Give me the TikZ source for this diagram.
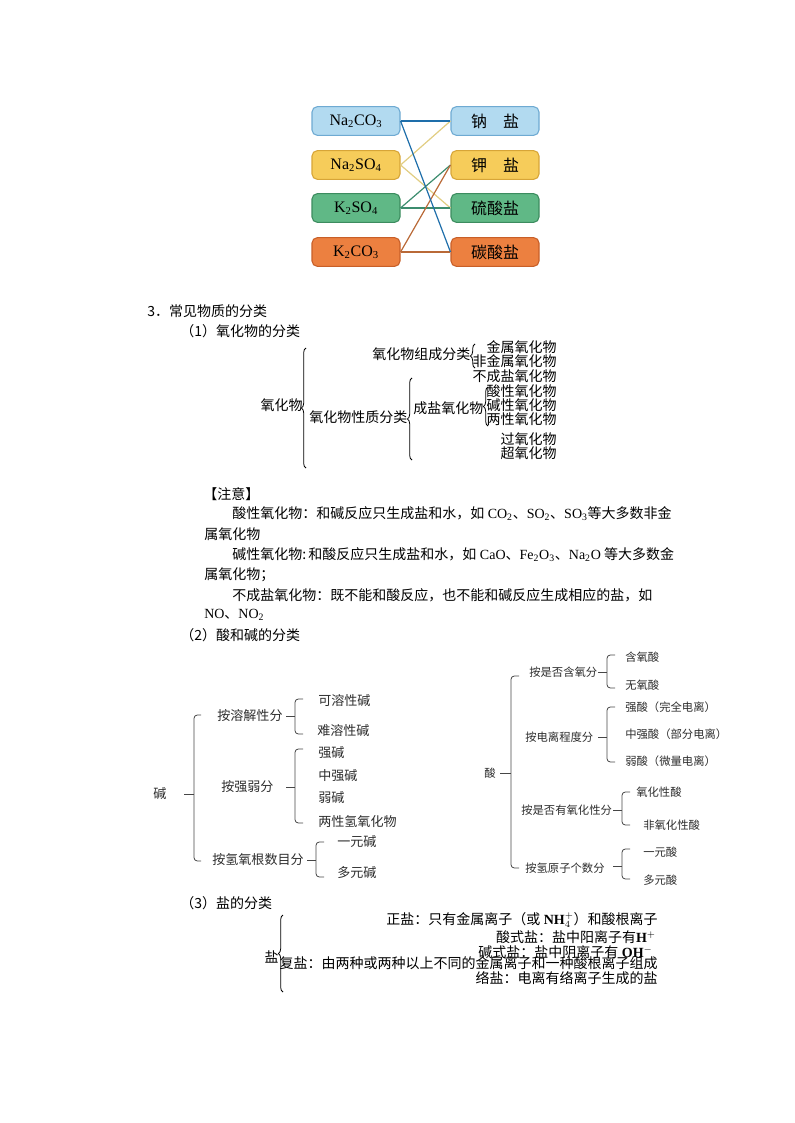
\documentclass[tikz,border=0pt]{standalone}
\usepackage{fontspec}
\setmainfont{Noto Sans CJK SC}
\newfontfamily\tnr{Liberation Serif}
\usetikzlibrary{decorations.pathreplacing}
\newcommand\chsub[1]{\textsubscript{#1}}
\definecolor{bfill}{RGB}{178,218,240}\definecolor{bdraw}{RGB}{110,170,210}
\definecolor{yfill}{RGB}{246,204,90}\definecolor{ydraw}{RGB}{215,165,55}
\definecolor{gfill}{RGB}{96,184,134}\definecolor{gdraw}{RGB}{60,140,95}
\definecolor{ofill}{RGB}{236,128,64}\definecolor{odraw}{RGB}{200,95,40}
\definecolor{bline}{RGB}{30,110,170}\definecolor{yline}{RGB}{225,205,130}
\definecolor{gline}{RGB}{60,140,110}\definecolor{oline}{RGB}{185,105,55}
\definecolor{graytxt}{RGB}{45,45,45}\definecolor{grayline}{RGB}{70,70,70}
\begin{document}
\begin{tikzpicture}[x=0.75pt,y=-0.75pt,
  fbox/.style={draw, rounded corners=4pt, line width=0.8pt, minimum width=66pt, minimum height=21.5pt, inner sep=0pt, font=\fontsize{12pt}{14pt}\selectfont},
  conn/.style={line width=0.9pt},
  tw/.style={anchor=west, inner sep=0pt, font=\fontsize{10.5pt}{12pt}\selectfont},
  te/.style={anchor=east, inner sep=0pt, font=\fontsize{10.5pt}{12pt}\selectfont},
  brc/.style={decorate, decoration={brace, amplitude=3.5pt}, line width=0.6pt},
  basetxt/.style={anchor=west, inner sep=0pt, text=graytxt, font=\fontsize{9.8pt}{11pt}\selectfont},
  acidtxt/.style={anchor=west, inner sep=0pt, text=graytxt, font=\fontsize{8.5pt}{10pt}\selectfont},
  bkt/.style={draw=grayline, line width=0.6pt, rounded corners=2.5pt}]
\path (0,0) rectangle (794,1123);
% ---------- top matching boxes
\node[fbox, fill=bfill, draw=bdraw] (n1) at (356,121) {\tnr Na\chsub{2}CO\chsub{3}};
\node[fbox, fill=yfill, draw=ydraw] (n2) at (356,165) {\tnr Na\chsub{2}SO\chsub{4}};
\node[fbox, fill=gfill, draw=gdraw] (n3) at (356,208) {\tnr K\chsub{2}SO\chsub{4}};
\node[fbox, fill=ofill, draw=odraw] (n4) at (356,252) {\tnr K\chsub{2}CO\chsub{3}};
\node[fbox, fill=bfill, draw=bdraw] (s1) at (495,121) {钠\hspace{1em}盐};
\node[fbox, fill=yfill, draw=ydraw] (s2) at (495,165) {钾\hspace{1em}盐};
\node[fbox, fill=gfill, draw=gdraw] (s3) at (495,208) {硫酸盐};
\node[fbox, fill=ofill, draw=odraw] (s4) at (495,252) {碳酸盐};
\draw[conn, yline] (n2.east) -- (s1.west);
\draw[conn, yline] (n2.east) -- (s3.west);
\draw[conn, gline] (n3.east) -- (s2.west);
\draw[conn, gline] (n3.east) -- (s3.west);
\draw[conn, oline] (n4.east) -- (s2.west);
\draw[conn, oline] (n4.east) -- (s4.west);
\draw[conn, bline] (n1.east) -- (s1.west);
\draw[conn, bline] (n1.east) -- (s4.west);
% ---------- headings
\node[tw] (h3) at (147,311) {3．常见物质的分类};
\node[tw] (h31) at (180,331) {（1）氧化物的分类};
% ---------- oxides
\node[te] (ox) at (303,405) {氧化物};
\draw[brc] (306,468) -- (306,348);
\node[tw] (oxz) at (372,354) {氧化物组成分类};
\draw[brc] (475,368) -- (475,344);
\node[te] (o1) at (557,347) {金属氧化物};
\node[te] (o2) at (557,361) {非金属氧化物};
\node[tw] (oxx) at (309,417) {氧化物性质分类};
\draw[brc] (412,460) -- (412,378);
\node[te] (o3) at (557,376) {不成盐氧化物};
\node[tw] (oxc) at (413,408) {成盐氧化物};
\draw[brc] (488,426) -- (488,387);
\node[te] (o4) at (557,391) {酸性氧化物};
\node[te] (o5) at (557,405) {碱性氧化物};
\node[te] (o6) at (557,419) {两性氧化物};
\node[te] (o7) at (557,439) {过氧化物};
\node[te] (o8) at (557,453) {超氧化物};
% ---------- notes
\node[tw] (z0) at (203,494) {【注意】};
\node[tw] (z1) at (232,514) {酸性氧化物：和碱反应只生成盐和水，如{\tnr\ CO\chsub{2}}、{\tnr SO\chsub{2}}、{\tnr SO\chsub{3}}等大多数非金};
\node[tw] (z2) at (204,534) {属氧化物};
\node[tw] (z3) at (232,555) {碱性氧化物:\,和酸反应只生成盐和水，如{\tnr\ CaO}、{\tnr Fe\chsub{2}O\chsub{3}}、{\tnr Na\chsub{2}O} 等大多数金};
\node[tw] (z4) at (204,575) {属氧化物；};
\node[tw] (z5) at (232,595) {不成盐氧化物：既不能和酸反应，也不能和碱反应生成相应的盐，如};
\node[tw] (z6) at (204,615) {{\tnr NO}、{\tnr NO\chsub{2}}};
\node[tw] (h32) at (180,635) {（2）酸和碱的分类};
% ---------- bases
\node[basetxt] (jn) at (153,794) {碱};
\draw[bkt] (184,794) -- (194,794);
\draw[bkt] (201,715) -- (194,715) -- (194,861) -- (201,861);
\node[basetxt] (j1) at (217,716) {按溶解性分};
\draw[bkt] (286,716) -- (295,716);
\draw[bkt] (303,699) -- (295,699) -- (295,734) -- (303,734);
\node[basetxt] (j11) at (318,701) {可溶性碱};
\node[basetxt] (j12) at (317,731) {难溶性碱};
\node[basetxt] (j2) at (221,787) {按强弱分};
\draw[bkt] (286,787) -- (295,787);
\draw[bkt] (303,749) -- (295,749) -- (295,823) -- (303,823);
\node[basetxt] (j21) at (318,753) {强碱};
\node[basetxt] (j22) at (318,776) {中强碱};
\node[basetxt] (j23) at (318,798) {弱碱};
\node[basetxt] (j24) at (318,822) {两性氢氧化物};
\node[basetxt] (j3) at (212,860) {按氢氧根数目分};
\draw[bkt] (307,860) -- (316,860);
\draw[bkt] (324,842) -- (316,842) -- (316,877) -- (324,877);
\node[basetxt] (j31) at (337,842) {一元碱};
\node[basetxt] (j32) at (337,873) {多元碱};
% ---------- acids
\node[acidtxt] (sn) at (484,773) {酸};
\draw[bkt] (500,773) -- (511,773);
\draw[bkt] (519,676) -- (511,676) -- (511,868) -- (519,868);
\node[acidtxt] (a1) at (529,672) {按是否含氧分};
\draw[bkt] (598,672) -- (607,672);
\draw[bkt] (615,655) -- (607,655) -- (607,688) -- (615,688);
\node[acidtxt] (a11) at (625,657) {含氧酸};
\node[acidtxt] (a12) at (625,685) {无氧酸};
\node[acidtxt] (a2) at (525,737) {按电离程度分};
\draw[bkt] (598,737) -- (607,737);
\draw[bkt] (615,707) -- (607,707) -- (607,762) -- (615,762);
\node[acidtxt] (a21) at (625,707) {强酸（完全电离）};
\node[acidtxt] (a22) at (625,734) {中强酸（部分电离）};
\node[acidtxt] (a23) at (625,761) {弱酸（微量电离）};
\node[acidtxt] (a3) at (521,810) {按是否有氧化性分};
\draw[bkt] (613,810) -- (622,810);
\draw[bkt] (630,792) -- (622,792) -- (622,825) -- (630,825);
\node[acidtxt] (a31) at (636,792) {氧化性酸};
\node[acidtxt] (a32) at (643,825) {非氧化性酸};
\node[acidtxt] (a4) at (525,868) {按氢原子个数分};
\draw[bkt] (613,866) -- (622,866);
\draw[bkt] (630,849) -- (622,849) -- (622,879) -- (630,879);
\node[acidtxt] (a41) at (643,852) {一元酸};
\node[acidtxt] (a42) at (643,880) {多元酸};
% ---------- salts
\node[tw] (h33) at (180,903) {（3）盐的分类};
\node[te] (yn) at (279,957) {盐};
\draw[brc] (283,992) -- (283,915);
\node[te] (y1) at (658,920) {正盐：只有金属离子（或{\tnr\ \textbf{NH}}$^{+}_{4}$）和酸根离子};
\node[te] (y2) at (656,937) {酸式盐：盐中阳离子有{\tnr\textbf{H}}$^{+}$};
\node[te] (y3) at (653,952) {碱式盐：盐中阴离子有{\tnr\ \textbf{OH}}$^{-}$};
\node[te] (y4) at (658,963) {复盐：由两种或两种以上不同的金属离子和一种酸根离子组成};
\node[te] (y5) at (658,978) {络盐：电离有络离子生成的盐};
\end{tikzpicture}
\end{document}
